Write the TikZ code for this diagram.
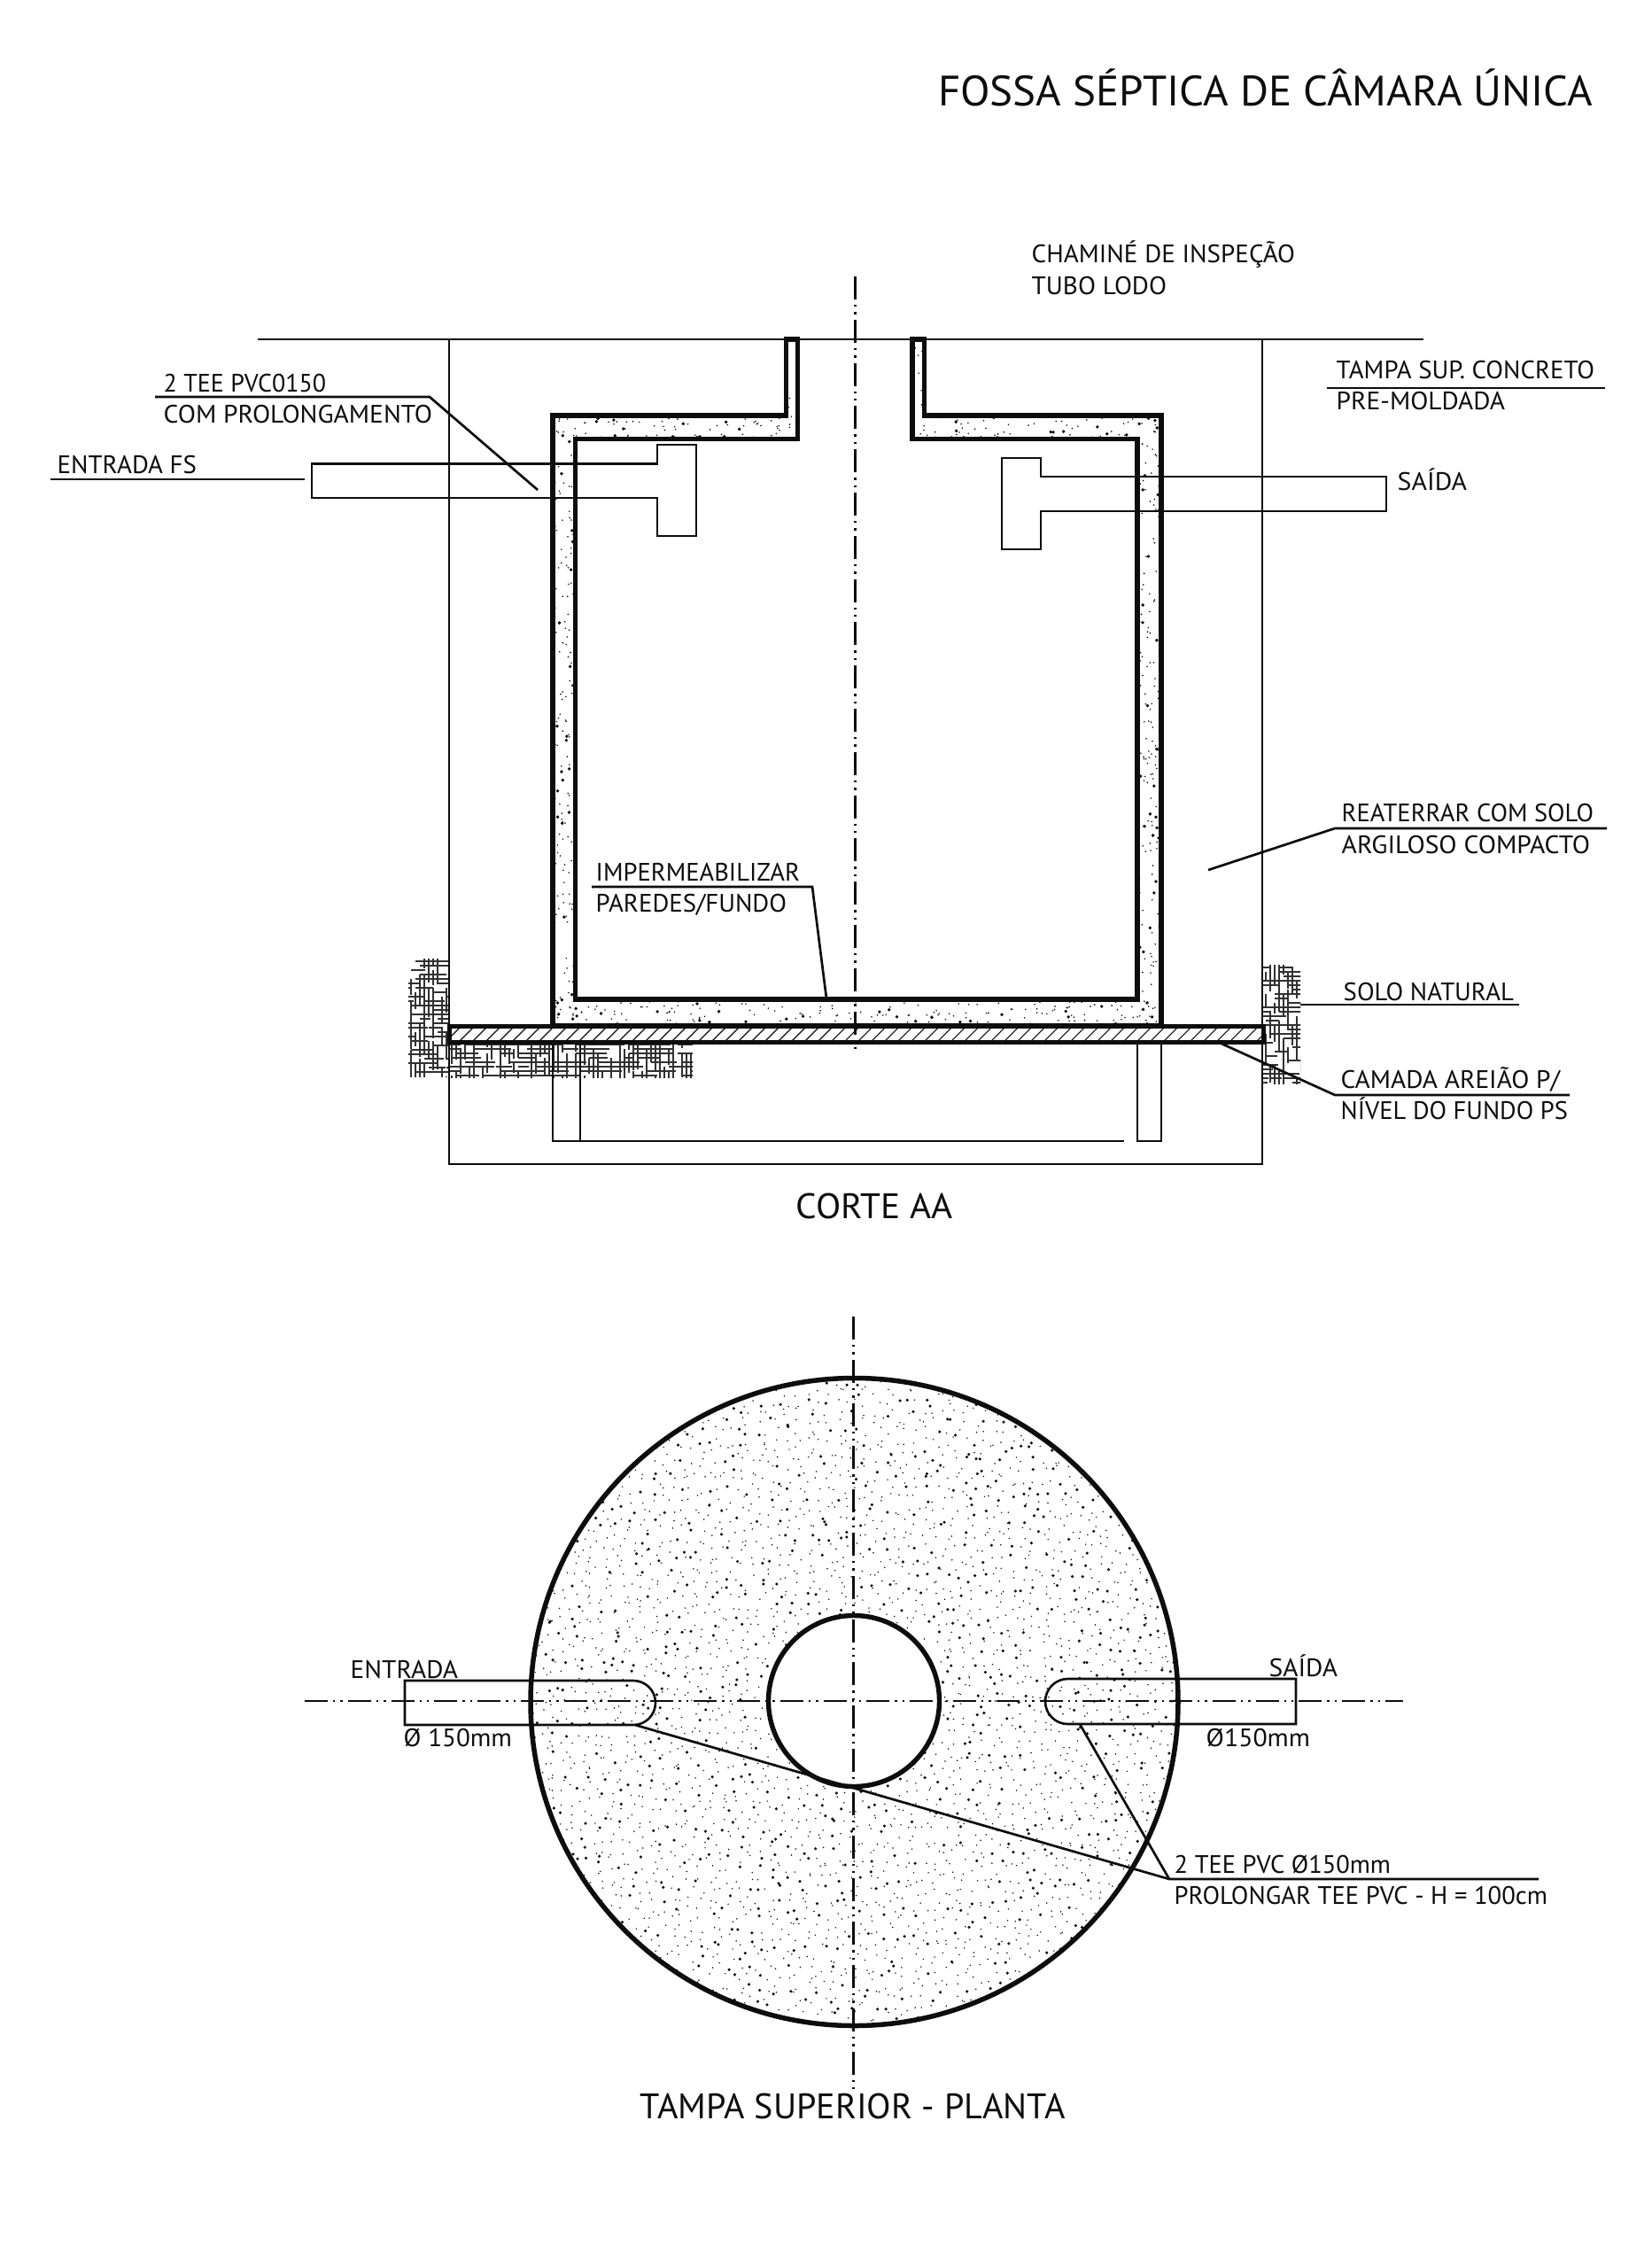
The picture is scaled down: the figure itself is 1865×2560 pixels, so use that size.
\documentclass[tikz,border=0pt]{standalone}
\usepackage{fontspec}
\usepackage{graphicx}
\setmainfont{PT Sans}
\newcommand{\lbl}[6][28.5]{\node[anchor=base west,inner sep=0pt,outer sep=0pt,text=ink,xshift={-0.08*#1*1pt}] (#2) at (#3,#4) {\resizebox{\dimexpr #5pt-#3pt+#1pt*8/100\relax}{\height}{\fontsize{#1pt}{#1pt}\selectfont #6}};}
\definecolor{ink}{gray}{0.05}
\tikzset{
  thin line/.style={draw=ink,line width=2.6pt},
  leader/.style={draw=ink,line width=2.7pt},
  thick wall/.style={draw=ink,line width=5.8pt,miter limit=10},
  axis/.style={draw=ink,line width=2.4pt,dash pattern=on 26pt off 6pt on 2.4pt off 6pt on 2.4pt off 6pt},
  hatchline/.style={draw=ink,line width=1.1pt},
  soilline/.style={draw=ink!85,line width=1.15pt}
}
% random stipple: #1 x0, #2 y0, #3 w, #4 h, #5 small count, #6 large count
\newcommand{\stipple}[6]{%
  \foreach \n in {1,...,#5} {\fill[ink] ({#1+#3*rnd},{#2+#4*rnd}) circle (0.9);}
  \foreach \n in {1,...,#6} {\fill[ink] ({#1+#3*rnd},{#2+#4*rnd}) circle (1.9);}
}
% soil: #1 x0, #2 y0, #3 w, #4 h, #5 number of lines
\newcommand{\soil}[5]{%
  \begin{scope}
    \clip (#1,#2) rectangle ++(#3,#4);
    \foreach \n in {1,...,#5} {
      \pgfmathsetmacro{\ax}{#1-12+round(rnd*(#3+12)/5)*5}
      \pgfmathsetmacro{\ay}{#2-12+round(rnd*(#4+12)/5)*5}
      \pgfmathsetmacro{\al}{10+rnd*24}
      \pgfmathtruncatemacro{\dir}{rnd>0.5 ? 1 : 0}
      \ifnum\dir=1
        \draw[soilline] (\ax,\ay) -- ++(\al,0);
      \else
        \draw[soilline] (\ax,\ay) -- ++(0,\al);
      \fi
    }
  \end{scope}
}
\begin{document}
\begin{tikzpicture}[x=1pt,y=-1pt]
\pgfmathsetseed{4217}
\useasboundingbox (0,0) rectangle (1865,2560);
\fill[white] (0,0) rectangle (1865,2560);

% ---------- CORTE AA ----------
% soil
\soil{461}{1082}{46}{133}{130}
\soil{507}{1176}{275}{40}{270}
\soil{1426}{1089}{42}{134}{125}

% concrete wall stipple
\begin{scope}
  \clip (887.5,383) -- (900.5,383) -- (900.5,495.5) -- (649.5,495.5) -- (649.5,1128) -- (1284,1128) -- (1284,495.5) -- (1030,495.5) -- (1030,383) -- (1043.5,383) -- (1043.5,469) -- (1311,469) -- (1311,1158) -- (624,1158) -- (624,469) -- (887.5,469) -- cycle;
  \stipple{624}{469}{27}{690}{150}{30}
  \stipple{1284}{469}{27}{690}{150}{30}
  \stipple{624}{1128}{687}{30}{170}{35}
  \stipple{624}{469}{276}{27}{60}{14}
  \stipple{1030}{469}{281}{27}{60}{14}
  \stipple{887}{383}{14}{90}{8}{1}
  \stipple{1030}{383}{14}{90}{8}{1}
\end{scope}

% outlines of the excavation
\draw[thin line] (291,383) -- (1607,383);
\draw[thin line] (507,383) -- (507,1314) -- (1425,1314) -- (1425,383);

% wall
\draw[thick wall] (887.5,383) -- (900.5,383) -- (900.5,495.5) -- (649.5,495.5) -- (649.5,1128) -- (1284,1128) -- (1284,495.5) -- (1030,495.5) -- (1030,383) -- (1043.5,383) -- (1043.5,469) -- (1311,469) -- (1311,1158) -- (624,1158) -- (624,469) -- (887.5,469) -- cycle;

% slab with hatch
\fill[white] (507,1158) rectangle (1426,1176);
\begin{scope}
  \clip (507,1158) rectangle (1426,1176);
  \foreach \i in {0,...,62} {
    \draw[hatchline] ({503+15*\i},1176) -- ++(18,-18);
  }
\end{scope}
\draw[draw=ink,line width=5pt,miter limit=10] (507,1158) rectangle (1426,1176);

% foundation stubs
\draw[thin line] (624,1176) -- (624,1288) -- (1269,1288);
\draw[thin line] (655,1176) -- (655,1288);
\draw[thin line] (1284,1176) -- (1284,1288) -- (1311,1288) -- (1311,1176);

% tees
\draw[thin line] (352,523.5) -- (742,523.5) -- (742,502) -- (786,502) -- (786,605) -- (742,605) -- (742,562) -- (352,562) -- cycle;
\draw[thin line] (1565,538) -- (1175,538) -- (1175,517) -- (1131,517) -- (1131,620) -- (1175,620) -- (1175,577) -- (1565,577) -- cycle;

% axis
\draw[axis] (965.5,312) -- (965.5,1189);

% leaders section
\coordinate (tee-a) at (175,448);
\coordinate (tee-b) at (485,448);
\coordinate (tee-c) at (607,553);
\draw[leader] (tee-a) -- (tee-b) -- (tee-c);
\coordinate (ent-a) at (57,541);
\coordinate (ent-b) at (344,541);
\draw[leader] (ent-a) -- (ent-b);
\coordinate (tam-a) at (1498,438);
\coordinate (tam-b) at (1812,438);
\draw[leader] (tam-a) -- (tam-b);
\coordinate (rea-a) at (1364,982);
\coordinate (rea-b) at (1507,935);
\coordinate (rea-c) at (1814,935);
\draw[leader] (rea-a) -- (rea-b) -- (rea-c);
\coordinate (imp-a) at (668,1001);
\coordinate (imp-b) at (917,1001);
\coordinate (imp-c) at (933,1127);
\draw[leader] (imp-a) -- (imp-b) -- (imp-c);
\coordinate (sol-a) at (1468,1134);
\coordinate (sol-b) at (1715,1134);
\draw[leader] (sol-a) -- (sol-b);
\coordinate (cam-a) at (1379,1178);
\coordinate (cam-b) at (1507,1236);
\coordinate (cam-c) at (1772,1236);
\draw[leader] (cam-a) -- (cam-b) -- (cam-c);

% ---------- PLANTA ----------
\begin{scope}
  \clip (964.5,1921) circle (365.5);
  \foreach \gx in {0,...,66} {
    \foreach \gy in {0,...,66} {
      \fill[ink] ({599+\gx*11+11*rnd},{1555+\gy*11+11*rnd}) circle ({rnd<0.24 ? 1.75 : 0.85});
    }
  }
\end{scope}
\fill[white] (964,1920) circle (96.5);
\draw[draw=ink,line width=5.4pt] (964,1920) circle (96.5);
\draw[draw=ink,line width=5.5pt] (964.5,1921) circle (365.5);

% pipes in plan
\draw[thin line] (457,1897) -- (715,1897) arc[start angle=-90,end angle=90,radius=25] -- (457,1947) -- cycle;
\draw[thin line] (1463,1895) -- (1205.5,1895) arc[start angle=270,end angle=90,radius=25.5] -- (1463,1946) -- cycle;

% axes in plan
\draw[axis] (344,1920) -- (1584,1920);
\draw[axis] (963.5,1486) -- (963.5,2358);

% leaders in plan
\coordinate (pl-a) at (717,1947);
\coordinate (pl-b) at (1219,1946);
\coordinate (pl-c) at (1320,2121);
\coordinate (pl-d) at (1737,2121);
\draw[leader] (pl-a) -- (pl-c) -- (pl-d);
\draw[leader] (pl-b) -- (pl-c);

% ---------- TEXTS ----------
\lbl[48]{title}{1063}{119}{1798}{FOSSA SÉPTICA DE CÂMARA ÚNICA}
\lbl{chamine}{1167}{296}{1462}{CHAMINÉ DE INSPEÇÃO}
\lbl{tubo}{1167}{332}{1317}{TUBO LODO}
\lbl{tampa}{1511}{427}{1800}{TAMPA SUP. CONCRETO}
\lbl{pre}{1511}{462}{1699}{PRE-MOLDADA}
\lbl{saida}{1580}{553}{1656}{SAÍDA}
\lbl{tee}{187}{442}{368}{2 TEE PVC0150}
\lbl{com}{187}{477}{488}{COM PROLONGAMENTO}
\lbl{entfs}{67}{534}{222}{ENTRADA FS}
\lbl{imper}{675}{994}{903}{IMPERMEABILIZAR}
\lbl{paredes}{675}{1029}{888}{PAREDES/FUNDO}
\lbl{reat}{1517}{927}{1799}{REATERRAR COM SOLO}
\lbl{argil}{1517}{963}{1795}{ARGILOSO COMPACTO}
\lbl{solo}{1519}{1129}{1709}{SOLO NATURAL}
\lbl{camada}{1516}{1228}{1761}{CAMADA AREIÃO P/}
\lbl{nivel}{1516}{1263}{1770}{NÍVEL DO FUNDO PS}
\lbl[40]{corte}{902}{1375}{1076}{CORTE AA}
\lbl[40]{plantatit}{726}{2391}{1203}{TAMPA SUPERIOR - PLANTA}
\lbl{entrada}{398}{1894}{517}{ENTRADA}
\lbl{diam-a}{458}{1971}{578}{Ø 150mm}
\lbl{saida-b}{1435}{1892}{1510}{SAÍDA}
\lbl{diam-b}{1364}{1971}{1479}{Ø150mm}
\lbl{teeb}{1328}{2114}{1570}{2 TEE PVC Ø150mm}
\lbl{prolong}{1328}{2149}{1747}{PROLONGAR TEE PVC - H = 100cm}
\end{tikzpicture}
\end{document}
